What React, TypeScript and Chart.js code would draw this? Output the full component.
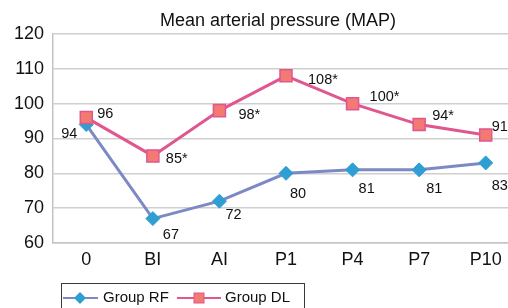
import React, { useEffect, useRef } from "react";
import { Chart, registerables } from "chart.js";

Chart.register(...registerables);

const categories = ["0", "BI", "AI", "P1", "P4", "P7", "P10"];
const groupRF = [94, 67, 72, 80, 81, 81, 83];
const groupDL = [96, 85, 98, 108, 100, 94, 91];
const labelsRF = ["94", "67", "72", "80", "81", "81", "83"];
const labelsDL = ["96", "85*", "98*", "108*", "100*", "94*", "91"];
const yMin = 60;
const yMax = 120;
const yStep = 10;
const chartTitle = "Mean arterial pressure (MAP)";
const legendNames = ["Group RF", "Group DL"];

// label placement relative to each point: [dx, dy, align]
const offsetsRF: [number, number, CanvasTextAlign][] = [
  [-9, 9, "right"], [10, 16, "left"], [6, 14, "left"], [4, 21, "left"],
  [6, 19, "left"], [7, 19, "left"], [6, 23, "left"],
];
const offsetsDL: [number, number, CanvasTextAlign][] = [
  [11, -4, "left"], [13, 3, "left"], [19, 4, "left"], [22, 4, "left"],
  [17, -7, "left"], [13, -9, "left"], [6, -8, "left"],
];

const FONT = "'Liberation Sans', Arial, Helvetica, sans-serif";
const RF_LINE = "#7b89c4";
const RF_FILL = "#2f9fd3";
const DL_LINE = "#e0568f";
const DL_FILL = "#f27a72";

const annotPlugin = {
  id: "annot",
  afterDatasetsDraw(chart: any) {
    const ctx = chart.ctx as CanvasRenderingContext2D;
    ctx.save();
    ctx.font = `14.5px ${FONT}`;
    ctx.fillStyle = "#111";
    ctx.textBaseline = "middle";
    chart.data.datasets.forEach((_ds: any, di: number) => {
      const meta = chart.getDatasetMeta(di);
      const texts = di === 0 ? labelsRF : labelsDL;
      const offs = di === 0 ? offsetsRF : offsetsDL;
      meta.data.forEach((pt: any, i: number) => {
        const [dx, dy, align] = offs[i];
        ctx.textAlign = align;
        ctx.fillText(texts[i], pt.x + dx, pt.y + dy);
      });
    });
    ctx.restore();
  },
  afterDraw(chart: any) {
    const ctx = chart.ctx as CanvasRenderingContext2D;
    ctx.save();
    // title
    ctx.font = `18px ${FONT}`;
    ctx.fillStyle = "#111";
    ctx.textAlign = "center";
    ctx.textBaseline = "middle";
    ctx.fillText(chartTitle, 278, 21);
    // legend box
    ctx.strokeStyle = "#3a3a3a";
    ctx.lineWidth = 1;
    ctx.strokeRect(61.5, 283.5, 243, 40);
    const ly = 298;
    // RF entry
    ctx.strokeStyle = RF_LINE;
    ctx.lineWidth = 2;
    ctx.beginPath();
    ctx.moveTo(63, ly);
    ctx.lineTo(98, ly);
    ctx.stroke();
    ctx.fillStyle = RF_FILL;
    ctx.beginPath();
    ctx.moveTo(80, ly - 6);
    ctx.lineTo(86, ly);
    ctx.lineTo(80, ly + 6);
    ctx.lineTo(74, ly);
    ctx.closePath();
    ctx.fill();
    // DL entry
    ctx.strokeStyle = DL_LINE;
    ctx.beginPath();
    ctx.moveTo(177, ly);
    ctx.lineTo(221, ly);
    ctx.stroke();
    ctx.fillStyle = DL_FILL;
    ctx.fillRect(194, ly - 5, 10, 10);
    ctx.strokeStyle = DL_LINE;
    ctx.lineWidth = 1;
    ctx.strokeRect(194, ly - 5, 10, 10);
    // legend text
    ctx.font = `15px ${FONT}`;
    ctx.fillStyle = "#111";
    ctx.textAlign = "left";
    ctx.fillText(legendNames[0], 103, ly);
    ctx.fillText(legendNames[1], 225, ly);
    ctx.restore();
  },
};

export default function App() {
  const ref = useRef<HTMLCanvasElement | null>(null);
  useEffect(() => {
    if (!ref.current) return;
    const chart = new Chart(ref.current, {
      type: "line",
      data: {
        labels: categories,
        datasets: [
          {
            label: legendNames[0],
            data: groupRF,
            borderColor: RF_LINE,
            borderWidth: 3,
            pointStyle: "rectRot",
            pointRadius: 7,
            pointBackgroundColor: RF_FILL,
            pointBorderColor: RF_FILL,
            pointBorderWidth: 1,
            tension: 0,
            order: 2,
          },
          {
            label: legendNames[1],
            data: groupDL,
            borderColor: DL_LINE,
            borderWidth: 3,
            pointStyle: "rect",
            pointRadius: 8.5,
            pointBackgroundColor: DL_FILL,
            pointBorderColor: DL_LINE,
            pointBorderWidth: 1.5,
            tension: 0,
            order: 1,
          },
        ],
      },
      options: {
        animation: false,
        responsive: false,
        layout: { padding: { top: 34, right: 21, bottom: 30, left: 0 } },
        plugins: {
          legend: { display: false },
          title: { display: false },
          tooltip: { enabled: false },
        },
        scales: {
          x: {
            offset: true,
            grid: { display: false, drawTicks: false },
            border: { display: true, color: "#c4c4c4", width: 1.5 },
            ticks: { color: "#111", font: { family: FONT, size: 18 }, padding: 6 },
            afterFit: (s: any) => { s.height = 35; },
          },
          y: {
            min: yMin,
            max: yMax,
            ticks: { stepSize: yStep, color: "#111", font: { family: FONT, size: 18 }, padding: 9 },
            grid: { color: "#cfcfcf", lineWidth: 1.5, drawTicks: false },
            border: { display: true, color: "#c4c4c4", width: 1.5 },
            afterFit: (s: any) => { s.width = 53; },
          },
        },
      },
      plugins: [annotPlugin],
    });
    return () => chart.destroy();
  }, []);
  return (
    <div style={{ position: "fixed", left: 0, top: 0, width: 508, height: 308, overflow: "hidden", background: "#fff" }}>
      <canvas ref={ref} width={540} height={308} style={{ display: "block" }} />
    </div>
  );
}
